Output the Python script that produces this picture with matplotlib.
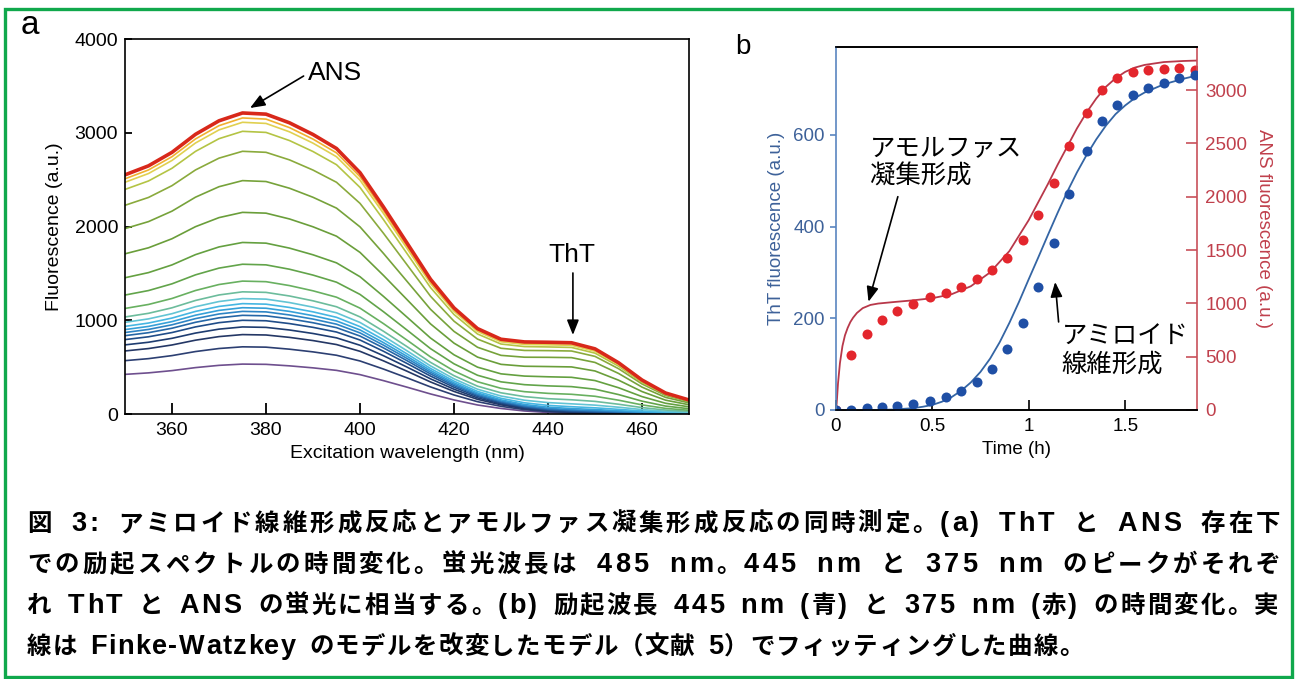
import matplotlib
matplotlib.use("Agg")
import matplotlib.pyplot as plt
import numpy as np
from matplotlib.patches import Rectangle

plt.rcParams['font.family'] = ['Liberation Sans', 'Noto Sans CJK JP']

# ---- panel a: excitation spectra, read as ANS band (375 nm) + ThT band (445 nm)
wavelength = [350, 355, 360, 365, 370, 375, 380, 385, 390, 395, 400, 405, 410,
              415, 420, 425, 430, 435, 440, 445, 450, 455, 460, 465, 470]
ans_band = [0.79, 0.82, 0.865, 0.925, 0.97, 0.995, 0.99, 0.96, 0.92, 0.87, 0.785, 0.665, 0.535,
            0.40, 0.28, 0.18, 0.11, 0.06, 0.03, 0.015, 0.008, 0.004, 0.002, 0.001, 0.0]
tht_band = [0.03, 0.03, 0.03, 0.03, 0.03, 0.035, 0.04, 0.045, 0.05, 0.065, 0.085, 0.11, 0.155,
            0.22, 0.33, 0.47, 0.625, 0.81, 0.94, 1.0, 0.94, 0.75, 0.5, 0.31, 0.21]
# heights of each spectrum, bottom (first scan) to top (last scan)
ans_height = [535, 720, 851, 933, 1004, 1057, 1099, 1138, 1181, 1234, 1305,
              1418, 1596, 1826, 2145, 2482, 2794, 3007, 3103, 3149, 3202]
tht_height = [0, 4, 7, 9, 13, 20, 29, 41, 60, 90, 132,
              189, 268, 364, 470, 564, 630, 665, 686, 703, 712]
spec_colors = ['#6e4f8e', '#2c3f72', '#243765', '#1e3c70', '#1f4c88', '#2566a6', '#2d84c4',
               '#35a0d8', '#45b6e2', '#62c4d4', '#6cbc9c', '#68b060', '#62a44a', '#64a040',
               '#6a9e3a', '#76a23a', '#8aaa3c', '#b4c444', '#e0d050', '#f0b030', '#d8281a']

# ---- panel b: time course
t_obs = [0, 0.08, 0.16, 0.24, 0.32, 0.40, 0.49, 0.57, 0.65, 0.73, 0.81, 0.89,
         0.97, 1.05, 1.13, 1.21, 1.30, 1.38, 1.46, 1.54, 1.62, 1.70, 1.78, 1.86]
tht_obs = [0, 0, 4, 7, 9, 13, 20, 29, 41, 60, 90, 132,
           189, 268, 364, 470, 564, 630, 665, 686, 703, 713, 723, 730]
ans_obs = [0, 516, 713, 847, 931, 994, 1056, 1100, 1150, 1225, 1312, 1425,
           1594, 1831, 2125, 2472, 2781, 3000, 3112, 3166, 3191, 3200, 3203, 3188]

t_fit_tht = [0, 0.2, 0.3, 0.4, 0.45, 0.5, 0.55, 0.6, 0.65, 0.7, 0.75, 0.8, 0.85, 0.9, 0.95,
             1.0, 1.05, 1.1, 1.15, 1.2, 1.25, 1.3, 1.35, 1.4, 1.45, 1.5, 1.55, 1.6, 1.7, 1.8, 1.87]
tht_fit = [0, 0, 1, 4, 7, 11, 18, 28, 42, 60, 83, 112, 148, 190, 236,
           285, 333, 382, 430, 476, 518, 556, 590, 620, 645, 664, 680, 692, 710, 722, 729]
t_fit_ans = [0, 0.005, 0.012, 0.022, 0.035, 0.048, 0.062, 0.076, 0.09, 0.11, 0.14, 0.18,
             0.22, 0.3, 0.4, 0.5, 0.6, 0.7, 0.8, 0.9, 1.0, 1.05, 1.1, 1.15, 1.2, 1.25,
             1.3, 1.35, 1.4, 1.45, 1.5, 1.55, 1.6, 1.7, 1.8, 1.87]
ans_fit = [0, 60, 250, 440, 600, 700, 770, 825, 865, 910, 955, 985,
           998, 1012, 1028, 1048, 1085, 1160, 1290, 1490, 1780, 1950, 2120, 2300, 2470, 2640,
           2790, 2920, 3030, 3110, 3170, 3210, 3235, 3262, 3272, 3276]

caption = [
    "図 3: アミロイド線維形成反応とアモルファス凝集形成反応の同時測定。(a) ThT と ANS 存在下",
    "での励起スペクトルの時間変化。蛍光波長は 485 nm。445 nm と 375 nm のピークがそれぞ",
    "れ ThT と ANS の蛍光に相当する。(b) 励起波長 445 nm (青) と 375 nm (赤) の時間変化。実",
    "線は Finke-Watzkey のモデルを改変したモデル（文献 5）でフィッティングした曲線。",
]
caption_right = [1280, 1280, 1278, 1084]   # right edge of each caption line (px)

W, H = 1299, 679
fig = plt.figure(figsize=(W / 100, H / 100), dpi=100)

def fx(px):
    return px / W

def fy(py):
    return 1 - py / H

# green frame
fig.patches.append(Rectangle((fx(5), fy(677)), fx(1292) - fx(5), fy(9) - fy(677),
                             transform=fig.transFigure, fill=False,
                             edgecolor='#10a84c', lw=2.4))

# ---------------- panel a
ax = fig.add_axes([fx(125), fy(414), fx(689) - fx(125), fy(39) - fy(414)])
wl = np.array(wavelength)
for A, T, c in zip(ans_height, tht_height, spec_colors):
    spec = A * np.array(ans_band) + T * np.array(tht_band)
    ax.plot(wl, spec, color=c, lw=2.6 if c == spec_colors[-1] else 1.2)
ax.set_xlim(350, 470)
ax.set_ylim(0, 4000)
ax.set_xticks([360, 380, 400, 420, 440, 460])
ax.set_yticks([0, 1000, 2000, 3000, 4000])
ax.tick_params(direction='in', labelsize=14, width=1.3)
ax.tick_params(axis='x', length=8, pad=6)
ax.tick_params(axis='y', length=5, pad=5)
for s in ax.spines.values():
    s.set_linewidth(1.2)
ax.set_xlabel("Excitation wavelength (nm)", fontsize=14, labelpad=4)
ax.set_ylabel("Fluorescence (a.u.)", fontsize=14, labelpad=8)

arrow = dict(arrowstyle='-|>,head_length=0.5,head_width=0.2', color='k', lw=1.2,
             mutation_scale=18, shrinkA=0, shrinkB=0)
ax.annotate("", xy=(376.6, 3264), xytext=(388, 3605), arrowprops=arrow)
ax.text(389.0, 3640, "ANS", fontsize=19, va='center', ha='left')
ax.annotate("", xy=(445.3, 843), xytext=(445.3, 1504), arrowprops=arrow)
ax.text(445.0, 1700, "ThT", fontsize=19, va='center', ha='center')

fig.text(fx(30), fy(26), "a", fontsize=24, ha='center', va='center')

# ---------------- panel b
blue_lab = '#3d6199'
red_lab = '#c0404c'
bx = fig.add_axes([fx(835.7), fy(410), fx(1197) - fx(835.7), fy(46.7) - fy(410)])
bx2 = bx.twinx()
bx.set_zorder(bx2.get_zorder() + 1)
bx.patch.set_visible(False)

bx2.plot(t_fit_ans, ans_fit, color='#b8384a', lw=1.3)
bx2.plot(t_obs, ans_obs, 'o', color='#e3262d', ms=7.2, mec='none')
bx.plot(t_fit_tht, tht_fit, color='#3465a4', lw=1.3)
bx.plot(t_obs, tht_obs, 'o', color='#1f4fa5', ms=7.2, mec='none')

bx.set_xlim(0, 1.872)
bx.set_ylim(0, 792)
bx2.set_ylim(0, 3406)
bx.set_xticks([0, 0.5, 1, 1.5])
bx.set_xticklabels(["0", "0.5", "1", "1.5"])
bx.set_yticks([0, 200, 400, 600])
bx2.set_yticks([0, 500, 1000, 1500, 2000, 2500, 3000])
bx.tick_params(axis='x', direction='in', length=7, width=1.2, labelsize=13.5, pad=6)
bx.tick_params(axis='y', direction='out', length=4, width=1.2, labelsize=13.5, pad=4,
               colors='#5a85c0', labelcolor=blue_lab)
bx2.tick_params(axis='y', direction='in', length=8, width=1.2, labelsize=13.5, pad=6,
                colors='#c8505a', labelcolor=red_lab)
for a in (bx, bx2):
    for s in a.spines.values():
        s.set_linewidth(1.2)
bx.spines['right'].set_visible(False)
bx2.spines['left'].set_visible(False)
bx.spines['left'].set_color('#5a85c0')
bx2.spines['right'].set_color('#c8505a')
bx.set_xlabel("Time (h)", fontsize=13.5, labelpad=4)
bx.set_ylabel("ThT fluorescence (a.u.)", fontsize=13.5, color=blue_lab, labelpad=6)
bx2.set_ylabel("ANS fluorescence (a.u.)", fontsize=13.5, color=red_lab,
               rotation=270, labelpad=18)

jp = ['Noto Sans CJK JP']
bx.text(0.177, 539, "アモルファス\n凝集形成", fontsize=18.3, family=jp, ha='left',
        va='center', linespacing=1.12)
bx.text(1.171, 129, "アミロイド\n線維形成", fontsize=18.3, family=jp, ha='left',
        va='center', linespacing=1.12)
bx.annotate("", xy=(0.170, 236), xytext=(0.322, 465), arrowprops=arrow)
bx.annotate("", xy=(1.137, 279), xytext=(1.155, 192), arrowprops=arrow)

fig.text(fx(743), fy(47), "b", fontsize=20, ha='center', va='center')

# ---------------- caption: Latin in a Helvetica-like face, kana/kanji in Noto CJK,
# justified by widening spaces more than the gaps between characters
renderer = fig.canvas.get_renderer()
lat_kw = dict(fontsize=19.5, weight='bold', family=['Liberation Sans'])
cjk_kw = dict(fontsize=17.6, weight='bold', family=['Noto Sans CJK JP'])

def kw_for(ch):
    return lat_kw if ord(ch) < 0x2000 else cjk_kw

_adv = {}
def advance(ch):
    if ch not in _adv:
        kw = kw_for(ch)
        t1 = fig.text(0, 0, ch + '|', **kw)
        t2 = fig.text(0, 0, '|', **kw)
        _adv[ch] = t1.get_window_extent(renderer).width - t2.get_window_extent(renderer).width
        t1.remove()
        t2.remove()
    return _adv[ch]

x0 = 27
for i, (line, right) in enumerate(zip(caption, caption_right)):
    widths = [advance(ch) for ch in line]
    starts = np.concatenate([[0.0], np.cumsum(widths)[:-1]])
    total = sum(widths)
    gap_w = [3.0 if line[k - 1] == ' ' else 1.0 for k in range(1, len(line))]
    unit = (right - x0 - total) / sum(gap_w)
    shift = np.concatenate([[0.0], np.cumsum(gap_w) * unit])
    base = 531 + 41 * i
    for k, ch in enumerate(line):
        if ch == ' ':
            continue
        fig.text(fx(x0 + starts[k] + shift[k]), fy(base), ch,
                 ha='left', va='baseline', **kw_for(ch))

fig.savefig("out.png", dpi=100)
